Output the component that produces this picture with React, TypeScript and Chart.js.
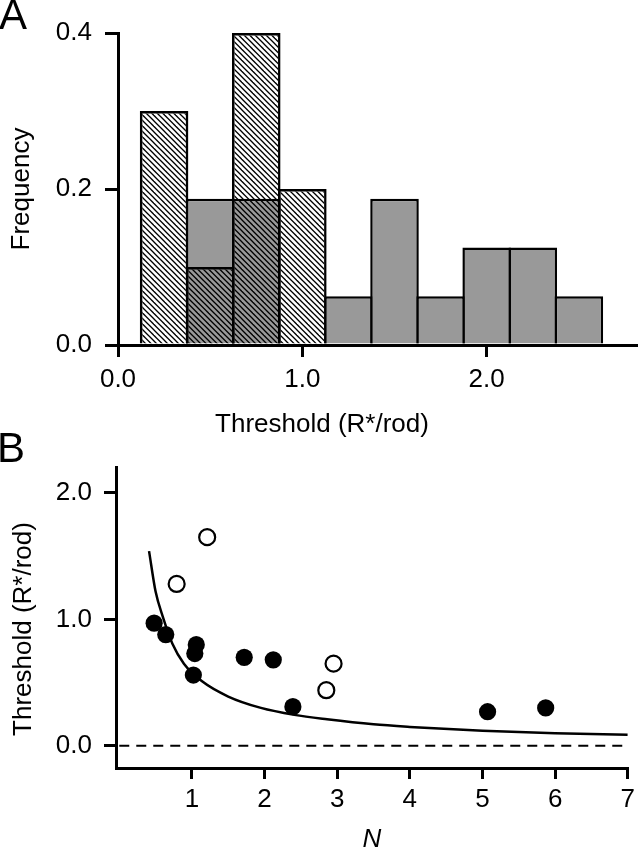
import React, { useEffect, useRef } from 'react';
import { Chart, registerables } from 'chart.js';

Chart.register(...registerables);

const FONT = '"Liberation Sans", Arial, Helvetica, sans-serif';
Chart.defaults.font.family = FONT;
Chart.defaults.color = '#000';

// Panel A - histogram (bin centres in R*/rod, bin width 0.25)
const hatchedBins = [0.25, 0.5, 0.75, 1.0];
const hatchedFreq = [0.3, 0.1, 0.4, 0.2];
const grayBins = [0.5, 0.75, 1.25, 1.5, 1.75, 2.0, 2.25, 2.5];
const grayFreq = [0.1875, 0.1875, 0.0625, 0.1875, 0.0625, 0.125, 0.125, 0.0625];
const freqTicks = [0, 0.2, 0.4];
const thresholdTicksA = [0, 1, 2];

// Panel B - threshold vs N
const filledN = [0.48, 0.64, 1.06, 1.04, 1.02, 1.72, 2.12, 2.39, 5.07, 5.87];
const filledT = [0.97, 0.88, 0.8, 0.73, 0.56, 0.7, 0.68, 0.31, 0.27, 0.3];
const openN = [0.79, 1.21, 2.85, 2.95];
const openT = [1.28, 1.65, 0.44, 0.65];
const fitN = [0.41, 0.5, 0.6, 0.73, 0.89, 1.14, 1.5, 1.95, 2.41, 2.86, 3.5, 4, 5, 6, 7];
const fitT = [1.54, 1.22, 1.02, 0.81, 0.65, 0.51, 0.39, 0.3, 0.245, 0.21, 0.17, 0.15, 0.12, 0.1, 0.087];
const zeroN = [0, 7];
const zeroT = [0, 0];
const nTicks = [1, 2, 3, 4, 5, 6, 7];
const thresholdTicksB = [0, 1, 2];

const toPoints = (xs: number[], ys: number[]) => xs.map((x, i) => ({ x, y: ys[i] }));

const axisLine = { display: true, color: '#000', width: 3 };
const tickMarks = (len: number) => ({
  drawOnChartArea: false,
  drawTicks: true,
  tickLength: len,
  tickWidth: 3,
  lineWidth: 3,
  tickColor: '#000',
  color: '#000',
});

function makeHatch(): CanvasPattern | string {
  const size = 11;
  const c = document.createElement('canvas');
  c.width = size;
  c.height = size;
  const g = c.getContext('2d');
  if (!g) return '#fff';
  g.strokeStyle = '#000';
  g.lineWidth = 1.3;
  for (const off of [-11, -5.5, 0, 5.5, 11]) {
    g.beginPath();
    g.moveTo(-1, off - 1);
    g.lineTo(size + 1, size + off + 1);
    g.stroke();
  }
  return g.createPattern(c, 'repeat') || '#fff';
}

const HistogramPanel: React.FC = () => {
  const ref = useRef<HTMLCanvasElement>(null);

  useEffect(() => {
    if (!ref.current) return;
    const chart = new Chart(ref.current, {
      type: 'bar',
      data: {
        datasets: [
          {
            data: toPoints(hatchedBins, hatchedFreq),
            backgroundColor: makeHatch(),
            borderColor: '#000',
            borderWidth: 2.5,
          },
          {
            data: toPoints(grayBins, grayFreq),
            backgroundColor: '#999999',
            borderColor: '#000',
            borderWidth: 2.5,
          },
        ],
      },
      options: {
        responsive: false,
        animation: false,
        datasets: {
          bar: {
            grouped: false,
            categoryPercentage: 1,
            barPercentage: 1.054, // borders of neighbouring bins overlap
          },
        },
        layout: { padding: { top: 33, right: 4, left: 0, bottom: 0 } },
        plugins: { legend: { display: false }, tooltip: { enabled: false } },
        scales: {
          x: {
            type: 'linear',
            min: 0,
            max: 2.81,
            offset: false,
            afterBuildTicks: (s: any) => { s.ticks = thresholdTicksA.map((value) => ({ value })); },
            afterFit: (s: any) => { s.height = 95; },
            ticks: { font: { size: 26 }, padding: 7, maxRotation: 0, callback: (v: any) => Number(v).toFixed(1) },
            grid: { ...tickMarks(12), offset: false },
            border: axisLine,
          },
          y: {
            min: 0,
            max: 0.4,
            afterBuildTicks: (s: any) => { s.ticks = freqTicks.map((value) => ({ value })); },
            afterFit: (s: any) => { s.width = 118; },
            ticks: { font: { size: 26 }, padding: 13, callback: (v: any) => Number(v).toFixed(1) },
            grid: tickMarks(13),
            border: axisLine,
            title: { display: true, text: 'Frequency', font: { size: 26 }, padding: { top: 6, bottom: 0 } },
          },
        },
      },
    });
    return () => chart.destroy();
  }, []);

  return <canvas ref={ref} width={640} height={440} style={{ position: 'absolute', left: 0, top: 0 }} />;
};

const ScatterPanel: React.FC = () => {
  const ref = useRef<HTMLCanvasElement>(null);

  useEffect(() => {
    if (!ref.current) return;
    const chart = new Chart(ref.current, {
      type: 'scatter',
      data: {
        datasets: [
          {
            data: toPoints(openN, openT),
            pointRadius: 8,
            pointBorderWidth: 2.2,
            pointBackgroundColor: '#fff',
            pointBorderColor: '#000',
          },
          {
            data: toPoints(filledN, filledT),
            pointRadius: 8.6,
            pointBorderWidth: 0,
            pointBackgroundColor: '#000',
            pointBorderColor: '#000',
          },
          {
            data: toPoints(fitN, fitT),
            showLine: true,
            pointRadius: 0,
            borderColor: '#000',
            borderWidth: 2.5,
            cubicInterpolationMode: 'monotone',
          },
          {
            data: toPoints(zeroN, zeroT),
            showLine: true,
            pointRadius: 0,
            borderColor: '#000',
            borderWidth: 2,
            borderDash: [10, 7],
          },
        ],
      },
      options: {
        responsive: false,
        animation: false,
        layout: { padding: { top: 27, right: 7, left: 0, bottom: 0 } },
        plugins: { legend: { display: false }, tooltip: { enabled: false } },
        scales: {
          x: {
            type: 'linear',
            min: -0.045,
            max: 7,
            afterBuildTicks: (s: any) => { s.ticks = nTicks.map((value) => ({ value })); },
            afterFit: (s: any) => { s.height = 85; },
            ticks: { font: { size: 26 }, padding: 5, maxRotation: 0 },
            grid: tickMarks(11),
            border: axisLine,
            title: {
              display: true,
              text: 'N',
              font: { size: 26, style: 'italic', lineHeight: 1 },
              padding: { top: 0, bottom: 0 },
            },
          },
          y: {
            min: -0.175,
            max: 2.2,
            afterBuildTicks: (s: any) => { s.ticks = thresholdTicksB.map((value) => ({ value })); },
            afterFit: (s: any) => { s.width = 116; },
            ticks: { font: { size: 26 }, padding: 12, callback: (v: any) => Number(v).toFixed(1) },
            grid: tickMarks(12),
            border: axisLine,
          },
        },
      },
    });
    return () => chart.destroy();
  }, []);

  return <canvas ref={ref} width={640} height={413} style={{ position: 'absolute', left: 0, top: 440 }} />;
};

const letter: React.CSSProperties = {
  position: 'absolute',
  fontSize: 42,
  lineHeight: '42px',
  color: '#000',
};

const caption: React.CSSProperties = {
  position: 'absolute',
  fontSize: 26,
  lineHeight: '26px',
  color: '#000',
  whiteSpace: 'nowrap',
};

export default function App() {
  return (
    <div
      style={{
        position: 'fixed',
        left: 0,
        top: 0,
        width: 640,
        height: 853,
        background: '#fff',
        overflow: 'hidden',
        fontFamily: FONT,
      }}
    >
      <HistogramPanel />
      <ScatterPanel />
      <div style={{ ...letter, left: -1, top: -6 }}>A</div>
      <div style={{ ...letter, left: -3, top: 427 }}>B</div>
      <div style={{ ...caption, left: 322, top: 410, transform: 'translateX(-50%)' }}>Threshold (R*/rod)</div>
      <div style={{ ...caption, left: 22, top: 629, transform: 'translate(-50%, -50%) rotate(-90deg)' }}>
        Threshold (R*/rod)
      </div>
    </div>
  );
}
